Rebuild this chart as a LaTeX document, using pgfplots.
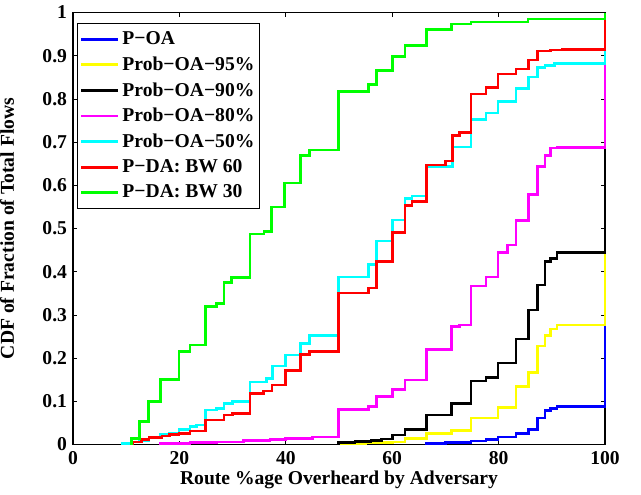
\documentclass[border=0pt]{standalone}
\usepackage{pgfplots}
\usepackage{fontspec}
\pgfplotsset{compat=1.18}
\setmainfont{Liberation Serif}
\definecolor{mblue}{rgb}{0,0,1}
\definecolor{myellow}{rgb}{1,1,0}
\definecolor{mmagenta}{rgb}{1,0,1}
\definecolor{mcyan}{rgb}{0,1,1}
\definecolor{mred}{rgb}{1,0,0}
\definecolor{mgreen}{rgb}{0,1,0}

\begin{document}
\begin{tikzpicture}
\useasboundingbox (-54.75pt,-37.125pt) rectangle (426pt,333.375pt);
\begin{axis}[
  at={(0,0)}, anchor=south west,
  width=399pt, height=324pt, scale only axis,
  xmin=0, xmax=100, ymin=0, ymax=1,
  clip=false,
  font=\fontsize{14.7}{17}\selectfont\bfseries,
  xtick={0,20,40,60,80,100},
  xticklabels={0,20,40,60,80,100},
  ytick={0,0.1,0.2,0.3,0.4,0.5,0.6,0.7,0.8,0.9,1},
  yticklabels={0,0.1,0.2,0.3,0.4,0.5,0.6,0.7,0.8,0.9,1},
  tick align=inside, tick pos=both,
  major tick length=3pt,
  every tick/.style={black, line width=0.6pt},
  axis line style={line width=0.8pt},
  xticklabel style={yshift=-2pt},
  yticklabel style={xshift=-1pt},
  every axis x label/.style={at={(axis description cs:0.5,-0.0822)}, anchor=center},
  every axis y label/.style={at={(axis description cs:-0.124,0.5)}, rotate=90, anchor=center},
  xlabel={Route \%age Overheard by Adversary},
  ylabel={CDF of Fraction of Total Flows},
  legend style={at={(axis description cs:0.007,0.975)}, anchor=north west,
    draw=black, line width=0.6pt, fill=white, row sep=3.6pt,
    inner xsep=2pt, inner ysep=4pt,
    nodes={inner xsep=2pt},
    font=\fontsize{14.7}{17}\selectfont\bfseries},
  legend cell align=left,
  legend image code/.code={\draw[#1] (0pt,0pt) -- (28pt,0pt);},
  every axis plot/.append style={line width=2pt, const plot},
]
\addplot[mblue] coordinates {
  (66.5,0) (66.5,0.002) (70,0.004) (74.8,0.008) (77.6,0.012) (79.9,0.017)
  (83.3,0.026) (85.6,0.035) (87.3,0.061) (88.7,0.078) (89.8,0.084)
  (91,0.0875) (100,0.0875) (100,1)
};
\addlegendentry{P−OA}
\addplot[myellow] coordinates {
  (49.9,0) (49.9,0.002) (55,0.004) (60,0.006) (62.4,0.014) (66.5,0.026)
  (71.2,0.032) (74.8,0.061) (79.9,0.086) (83.3,0.134) (85.6,0.166)
  (87.3,0.228) (88.7,0.253) (89.8,0.267) (91,0.277) (100,0.277) (100,1)
};
\addlegendentry{Prob−OA−95\%}
\addplot[black] coordinates {
  (49.9,0) (49.9,0.004) (53,0.007) (56,0.010) (58,0.013) (60,0.022)
  (62.4,0.034) (66.5,0.068) (71.2,0.095) (74.8,0.147) (77.6,0.155)
  (79.9,0.189) (83.3,0.244) (85.6,0.311) (87.3,0.369) (88.7,0.423)
  (89.8,0.431) (91,0.445) (100,0.445) (100,1)
};
\addlegendentry{Prob−OA−90\%}
\addplot[mmagenta] coordinates {
  (16.4,0) (16.4,0.002) (22,0.004) (27,0.006) (32,0.009) (37,0.011)
  (40,0.014) (45,0.017) (49.9,0.081) (55.5,0.088) (57.1,0.111) (60,0.128)
  (62.4,0.149) (66.5,0.220) (71.2,0.273) (72.7,0.277) (74.8,0.367)
  (77.6,0.388) (79.9,0.444) (81.7,0.462) (83.3,0.518) (85.6,0.578)
  (87.3,0.643) (88.7,0.669) (89.8,0.686) (91,0.687) (100,0.687) (100,1)
};
\addlegendentry{Prob−OA−80\%}
\addplot[mcyan] coordinates {
  (9.2,0) (9.2,0.003) (11,0.006) (12.5,0.010) (14.3,0.017) (16.5,0.024)
  (18.2,0.027) (19.9,0.035) (22,0.041) (23.2,0.045) (24.9,0.080)
  (27,0.084) (28.4,0.095) (30,0.099) (33.3,0.145) (36.4,0.153)
  (37.5,0.182) (40,0.207) (42.8,0.234) (44.4,0.252) (49.9,0.388)
  (55.5,0.416) (57.1,0.471) (60,0.520) (62.4,0.570) (63.7,0.575)
  (66.5,0.643) (71.3,0.689) (74.8,0.753) (77.6,0.767) (79.9,0.794)
  (83.3,0.824) (85.6,0.851) (87.3,0.872) (88.7,0.878) (90.5,0.882)
  (100,0.882) (100,1)
};
\addlegendentry{Prob−OA−50\%}
\addplot[mred] coordinates {
  (11.3,0) (11.3,0.006) (12.9,0.012) (14.3,0.016) (16.7,0.020)
  (18.2,0.023) (19.9,0.026) (22,0.031) (24.9,0.057) (28.4,0.068)
  (30,0.072) (33.3,0.118) (35.8,0.124) (37.4,0.138) (40,0.171)
  (42.8,0.209) (44.4,0.215) (49.9,0.351) (55.5,0.362) (57.1,0.423)
  (60,0.490) (62.4,0.554) (63.7,0.562) (66.5,0.647) (70,0.656)
  (71.3,0.716) (72.7,0.722) (74.8,0.811) (77.6,0.827) (79.9,0.858)
  (83.3,0.869) (85.6,0.890) (87.3,0.911) (89.7,0.913) (92,0.915)
  (100,0.915) (100,1)
};
\addlegendentry{P−DA: BW 60}
\addplot[mgreen] coordinates {
  (11,0) (11,0.014) (12.5,0.053) (14.2,0.099) (16.5,0.151) (19.9,0.216)
  (22,0.230) (24.9,0.320) (27,0.327) (28.4,0.375) (29.8,0.386)
  (33.3,0.487) (35.9,0.493) (37.3,0.550) (39.8,0.605) (42.7,0.669)
  (44.4,0.682) (49.9,0.817) (55.5,0.834) (57,0.865) (60,0.898)
  (62.4,0.924) (66.5,0.961) (71.2,0.973) (74.8,0.978) (85.5,0.985)
  (100,0.986) (100,1)
};
\addlegendentry{P−DA: BW 30}
\end{axis}
\end{tikzpicture}
\end{document}
